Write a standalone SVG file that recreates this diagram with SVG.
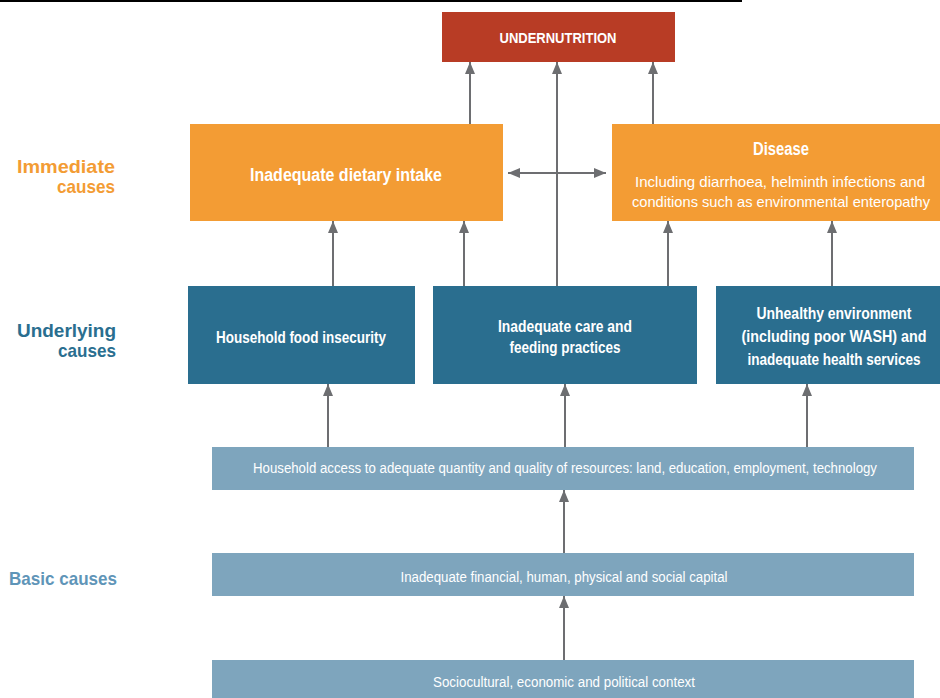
<svg xmlns="http://www.w3.org/2000/svg" width="940" height="698" viewBox="0 0 940 698">
<defs>
<marker id="ah" viewBox="0 0 12 10" refX="12" refY="5" markerWidth="12" markerHeight="10" markerUnits="userSpaceOnUse" orient="auto-start-reverse">
<path d="M0,0 L12,5 L0,10 Z" fill="#6d6e71"/>
</marker>
</defs>
<style>
text{font-family:"Liberation Sans",Arial,sans-serif;font-weight:bold;}
.w{fill:#ffffff;text-anchor:middle;}
.wn{fill:#ffffff;text-anchor:middle;font-weight:normal;}
.red{fill:#b83c25;}
.org{fill:#f39c34;}
.dk{fill:#2a6e8f;}
.lt{fill:#7ea5bd;}
.lab{text-anchor:end;font-size:19px;}
.c{stroke:#6d6e71;stroke-width:2;fill:none;marker-end:url(#ah);}
</style>
<rect width="940" height="698" fill="#ffffff"/>
<line x1="0" y1="1" x2="742" y2="1" stroke="#000" stroke-width="2"/>

<g id="labels">
<text class="lab" x="115" y="173" fill="#f39c34" textLength="98" lengthAdjust="spacingAndGlyphs">Immediate</text>
<text class="lab" x="115" y="193" fill="#f39c34" textLength="58" lengthAdjust="spacingAndGlyphs">causes</text>
<text class="lab" x="116" y="337" fill="#2a6e8f" textLength="99" lengthAdjust="spacingAndGlyphs">Underlying</text>
<text class="lab" x="116" y="357" fill="#2a6e8f" textLength="58" lengthAdjust="spacingAndGlyphs">causes</text>
<text class="lab" x="117" y="585" fill="#5f95b8" textLength="108" lengthAdjust="spacingAndGlyphs">Basic causes</text>
</g>

<g id="undernutrition">
<rect class="red" x="442" y="12" width="233" height="50"/>
<text class="w" x="558" y="43" font-size="15" textLength="117" lengthAdjust="spacingAndGlyphs">UNDERNUTRITION</text>
</g>

<g id="dietary">
<rect class="org" x="190" y="124" width="313" height="97"/>
<text class="w" x="346" y="181" font-size="18" textLength="192" lengthAdjust="spacingAndGlyphs">Inadequate dietary intake</text>
</g>

<g id="disease">
<rect class="org" x="612" y="124" width="328" height="97"/>
<text class="w" x="781" y="155" font-size="18" textLength="56" lengthAdjust="spacingAndGlyphs">Disease</text>
<text class="wn" x="780" y="187" font-size="15" textLength="290" lengthAdjust="spacingAndGlyphs">Including diarrhoea, helminth infections and</text>
<text class="wn" x="781" y="207" font-size="15" textLength="298" lengthAdjust="spacingAndGlyphs">conditions such as environmental enteropathy</text>
</g>

<g id="food">
<rect class="dk" x="188" y="286" width="227" height="98"/>
<text class="w" x="301" y="343" font-size="17" textLength="170" lengthAdjust="spacingAndGlyphs">Household food insecurity</text>
</g>

<g id="care">
<rect class="dk" x="433" y="286" width="264" height="98"/>
<text class="w" x="565" y="332" font-size="17" textLength="134" lengthAdjust="spacingAndGlyphs">Inadequate care and</text>
<text class="w" x="565" y="353" font-size="17" textLength="111" lengthAdjust="spacingAndGlyphs">feeding practices</text>
</g>

<g id="environment">
<rect class="dk" x="716" y="286" width="224" height="98"/>
<text class="w" x="834" y="319" font-size="16" textLength="155" lengthAdjust="spacingAndGlyphs">Unhealthy environment</text>
<text class="w" x="834" y="342" font-size="16" textLength="185" lengthAdjust="spacingAndGlyphs">(including poor WASH) and</text>
<text class="w" x="834" y="365" font-size="16" textLength="173" lengthAdjust="spacingAndGlyphs">inadequate health services</text>
</g>

<g id="access">
<rect class="lt" x="212" y="447" width="702" height="43"/>
<text class="wn" x="565" y="473" font-size="14" textLength="624" lengthAdjust="spacingAndGlyphs">Household access to adequate quantity and quality of resources: land, education, employment, technology</text>
</g>

<g id="capital">
<rect class="lt" x="212" y="553" width="702" height="43"/>
<text class="wn" x="564" y="582" font-size="14" textLength="327" lengthAdjust="spacingAndGlyphs">Inadequate financial, human, physical and social capital</text>
</g>

<g id="context">
<rect class="lt" x="212" y="660" width="702" height="40"/>
<text class="wn" x="564" y="687" font-size="14" textLength="262" lengthAdjust="spacingAndGlyphs">Sociocultural, economic and political context</text>
</g>

<g id="connectors">
<line class="c" x1="470" y1="124" x2="470" y2="62"/>
<line class="c" x1="557" y1="286" x2="557" y2="62"/>
<line class="c" x1="653" y1="124" x2="653" y2="62"/>
<line class="c" x1="508" y1="173" x2="606" y2="173" marker-start="url(#ah)"/>
<line class="c" x1="333" y1="286" x2="333" y2="221"/>
<line class="c" x1="464" y1="286" x2="464" y2="221"/>
<line class="c" x1="668" y1="286" x2="668" y2="221"/>
<line class="c" x1="832" y1="286" x2="832" y2="221"/>
<line class="c" x1="328" y1="447" x2="328" y2="384"/>
<line class="c" x1="565" y1="447" x2="565" y2="384"/>
<line class="c" x1="807" y1="447" x2="807" y2="384"/>
<line class="c" x1="564" y1="553" x2="564" y2="490"/>
<line class="c" x1="564" y1="660" x2="564" y2="596"/>
</g>
</svg>
